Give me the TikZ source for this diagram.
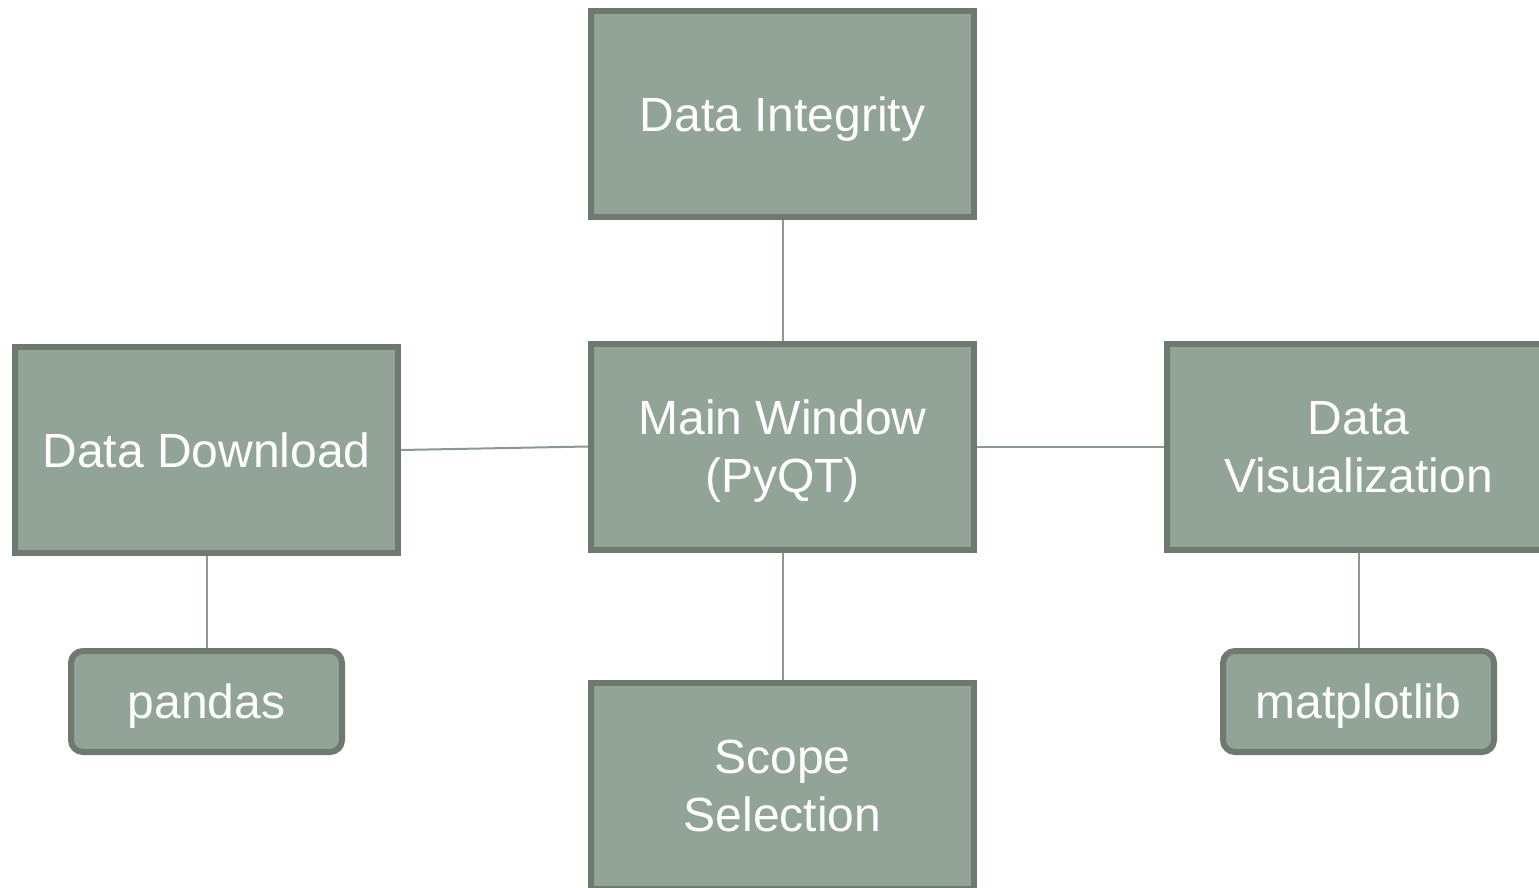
\documentclass[tikz,border=0pt]{standalone}
\usepackage{fontspec}
\setmainfont{Liberation Sans}
\definecolor{boxfill}{HTML}{92A397}
\definecolor{boxline}{HTML}{6E7A70}
\definecolor{conn}{HTML}{8A9A8E}
\begin{document}
\begin{tikzpicture}[x=0.75pt,y=-0.75pt,
  boxtext/.style={text=white, align=center, font=\fontsize{36}{43.5}\selectfont, inner sep=0pt, text depth=0pt},
  bigbox/.style={boxtext, draw=boxline, fill=boxfill, line width=4.5pt, minimum width=383*0.75pt, minimum height=206*0.75pt},
  libbox/.style={boxtext, draw=boxline, fill=boxfill, line width=4.5pt, rounded corners=9pt, minimum width=271*0.75pt, minimum height=101*0.75pt},
  link/.style={draw=conn, line width=1.5pt}]
\path[use as bounding box] (0,0) rectangle (1539,888);
\clip (0,0) rectangle (1539,888);
\fill[white] (0,0) rectangle (1539,888);
\node[bigbox] (integ) at (782.5,114) {Data Integrity};
\node[bigbox] (main) at (782.5,446.5) {Main Window\\(PyQT)};
\node[bigbox] (scope) at (782.5,786) {Scope\\Selection};
\node[bigbox] (dl) at (206.5,450) {Data Download};
\node[bigbox] (viz) at (1358.5,446.5) {Data\\Visualization};
\node[libbox] (pandas) at (206.5,701.5) {pandas};
\node[libbox] (mpl) at (1358.5,701.5) {matplotlib};
\draw[link] (integ.south) -- (main.north);
\draw[link] (main.south) -- (scope.north);
\draw[link] (dl.east) -- (main.west);
\draw[link] (main.east) -- (viz.west);
\draw[link] (dl.south) -- (pandas.north);
\draw[link] (viz.south) -- (mpl.north);
\end{tikzpicture}
\end{document}
